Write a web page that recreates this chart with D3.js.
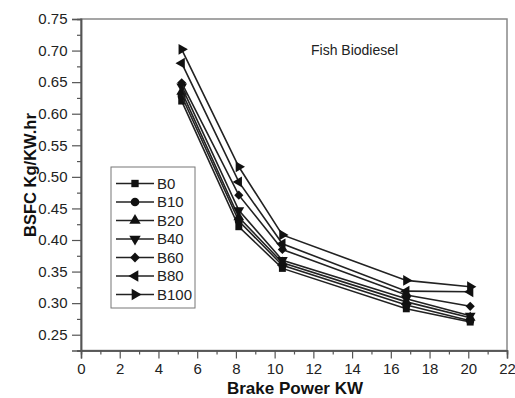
<!DOCTYPE html>
<html>
<head>
<meta charset="utf-8">
<script src="https://cdn.jsdelivr.net/npm/d3@7"></script>
<style>
  body { margin: 0; background: #fff; }
  svg { font-family: "Liberation Sans", Arial, sans-serif; }
</style>
</head>
<body>
<svg id="chart" width="515" height="398"></svg>
<script>
// brake power (kW) at each load step
const power = [5.2, 8.15, 10.4, 16.8, 20.1];
const seriesNames = ["B0", "B10", "B20", "B40", "B60", "B80", "B100"];
const b0   = [0.620, 0.421, 0.355, 0.291, 0.270];
const b10  = [0.628, 0.430, 0.360, 0.297, 0.272];
const b20  = [0.635, 0.436, 0.364, 0.302, 0.277];
const b40  = [0.643, 0.447, 0.368, 0.307, 0.280];
const b60  = [0.649, 0.471, 0.385, 0.313, 0.295];
const b80  = [0.680, 0.492, 0.394, 0.319, 0.318];
const b100 = [0.702, 0.516, 0.408, 0.336, 0.326];
const xTicks = [0, 2, 4, 6, 8, 10, 12, 14, 16, 18, 20, 22];
const yTicks = [0.25, 0.30, 0.35, 0.40, 0.45, 0.50, 0.55, 0.60, 0.65, 0.70, 0.75];

const allSeries = [b0, b10, b20, b40, b60, b80, b100];
// marker shape, rotation, size per series
const shapes = [
  [d3.symbolSquare, 0, 48],
  [d3.symbolCircle, 0, 52],
  [d3.symbolTriangle, 0, 50],
  [d3.symbolTriangle, 180, 50],
  [d3.symbolSquare, 45, 42],
  [d3.symbolTriangle, -90, 50],
  [d3.symbolTriangle, 90, 50]
];

const svg = d3.select("#chart");
const mLeft = 81, mRight = 507, mTop = 19, mBottom = 350.5;

const x = d3.scaleLinear().domain([0, 22]).range([mLeft, mRight]);
const y = d3.scaleLinear().domain([0.225, 0.75]).range([mBottom, mTop]);

const axisColor = "#555";

// frame
svg.append("rect")
  .attr("x", mLeft).attr("y", mTop)
  .attr("width", mRight - mLeft).attr("height", mBottom - mTop)
  .attr("fill", "none").attr("stroke", "#888").attr("stroke-width", 1.5);

// x axis
let xAxis = svg.append("g")
  .attr("transform", "translate(0," + mBottom + ")")
  .call(d3.axisBottom(x).tickValues(xTicks).tickSize(8).tickFormat(d3.format("d")));
svg.append("g")
  .attr("transform", "translate(0," + mBottom + ")")
  .call(d3.axisBottom(x).tickValues(d3.range(1, 22, 2)).tickSize(4).tickFormat(""));

// y axis
let yAxis = svg.append("g")
  .attr("transform", "translate(" + mLeft + ",0)")
  .call(d3.axisLeft(y).tickValues(yTicks).tickSize(9).tickFormat(d3.format(".2f")));
svg.append("g")
  .attr("transform", "translate(" + mLeft + ",0)")
  .call(d3.axisLeft(y).tickValues(d3.range(0.225, 0.75, 0.05)).tickSize(4).tickFormat(""));

svg.selectAll(".domain").attr("stroke", axisColor).attr("stroke-width", 1.5);
svg.selectAll(".tick line").attr("stroke", axisColor).attr("stroke-width", 1.2);
svg.selectAll(".tick text")
  .attr("font-size", 15).attr("fill", "#222")
  .attr("font-family", "Liberation Sans, Arial, sans-serif");
xAxis.selectAll(".tick text").attr("dy", "0.85em");
yAxis.selectAll(".tick text").attr("dx", "-0.1em");

// axis titles
svg.append("text")
  .attr("x", 295).attr("y", 394)
  .attr("text-anchor", "middle")
  .attr("font-size", 17).attr("font-weight", "bold").attr("fill", "#111")
  .text("Brake Power KW");

svg.append("text")
  .attr("transform", "translate(36,175) rotate(-90)")
  .attr("text-anchor", "middle")
  .attr("font-size", 16.5).attr("font-weight", "bold").attr("fill", "#111")
  .text("BSFC Kg/KW.hr");

// annotation
svg.append("text")
  .attr("x", 311).attr("y", 55)
  .attr("font-size", 14).attr("fill", "#222")
  .text("Fish Biodiesel");

// lines + markers
const line = d3.line()
  .x(function(d, i) { return x(power[i]); })
  .y(function(d) { return y(d); });

allSeries.forEach(function(vals, s) {
  svg.append("path")
    .attr("d", line(vals))
    .attr("fill", "none")
    .attr("stroke", "#222")
    .attr("stroke-width", 1.6);

  let sym = d3.symbol().type(shapes[s][0]).size(shapes[s][2]);
  svg.selectAll(".m" + s)
    .data(vals)
    .enter()
    .append("path")
    .attr("d", sym)
    .attr("transform", function(d, i) {
      return "translate(" + x(power[i]) + "," + y(d) + ") rotate(" + shapes[s][1] + ")";
    })
    .attr("fill", "#111");
});

// legend
const legend = svg.append("g");
legend.append("rect")
  .attr("x", 111).attr("y", 167)
  .attr("width", 84).attr("height", 141)
  .attr("fill", "#fff").attr("stroke", "#777").attr("stroke-width", 1);

seriesNames.forEach(function(name, s) {
  let ly = 183.5 + s * 18.5;
  legend.append("line")
    .attr("x1", 116).attr("x2", 154)
    .attr("y1", ly).attr("y2", ly)
    .attr("stroke", "#222").attr("stroke-width", 1.5);
  legend.append("path")
    .attr("d", d3.symbol().type(shapes[s][0]).size(shapes[s][2] + 6))
    .attr("transform", "translate(135," + ly + ") rotate(" + shapes[s][1] + ")")
    .attr("fill", "#111");
  legend.append("text")
    .attr("x", 157).attr("y", ly)
    .attr("dy", "0.36em")
    .attr("font-size", 15).attr("fill", "#222")
    .text(name);
});
</script>
</body>
</html>
